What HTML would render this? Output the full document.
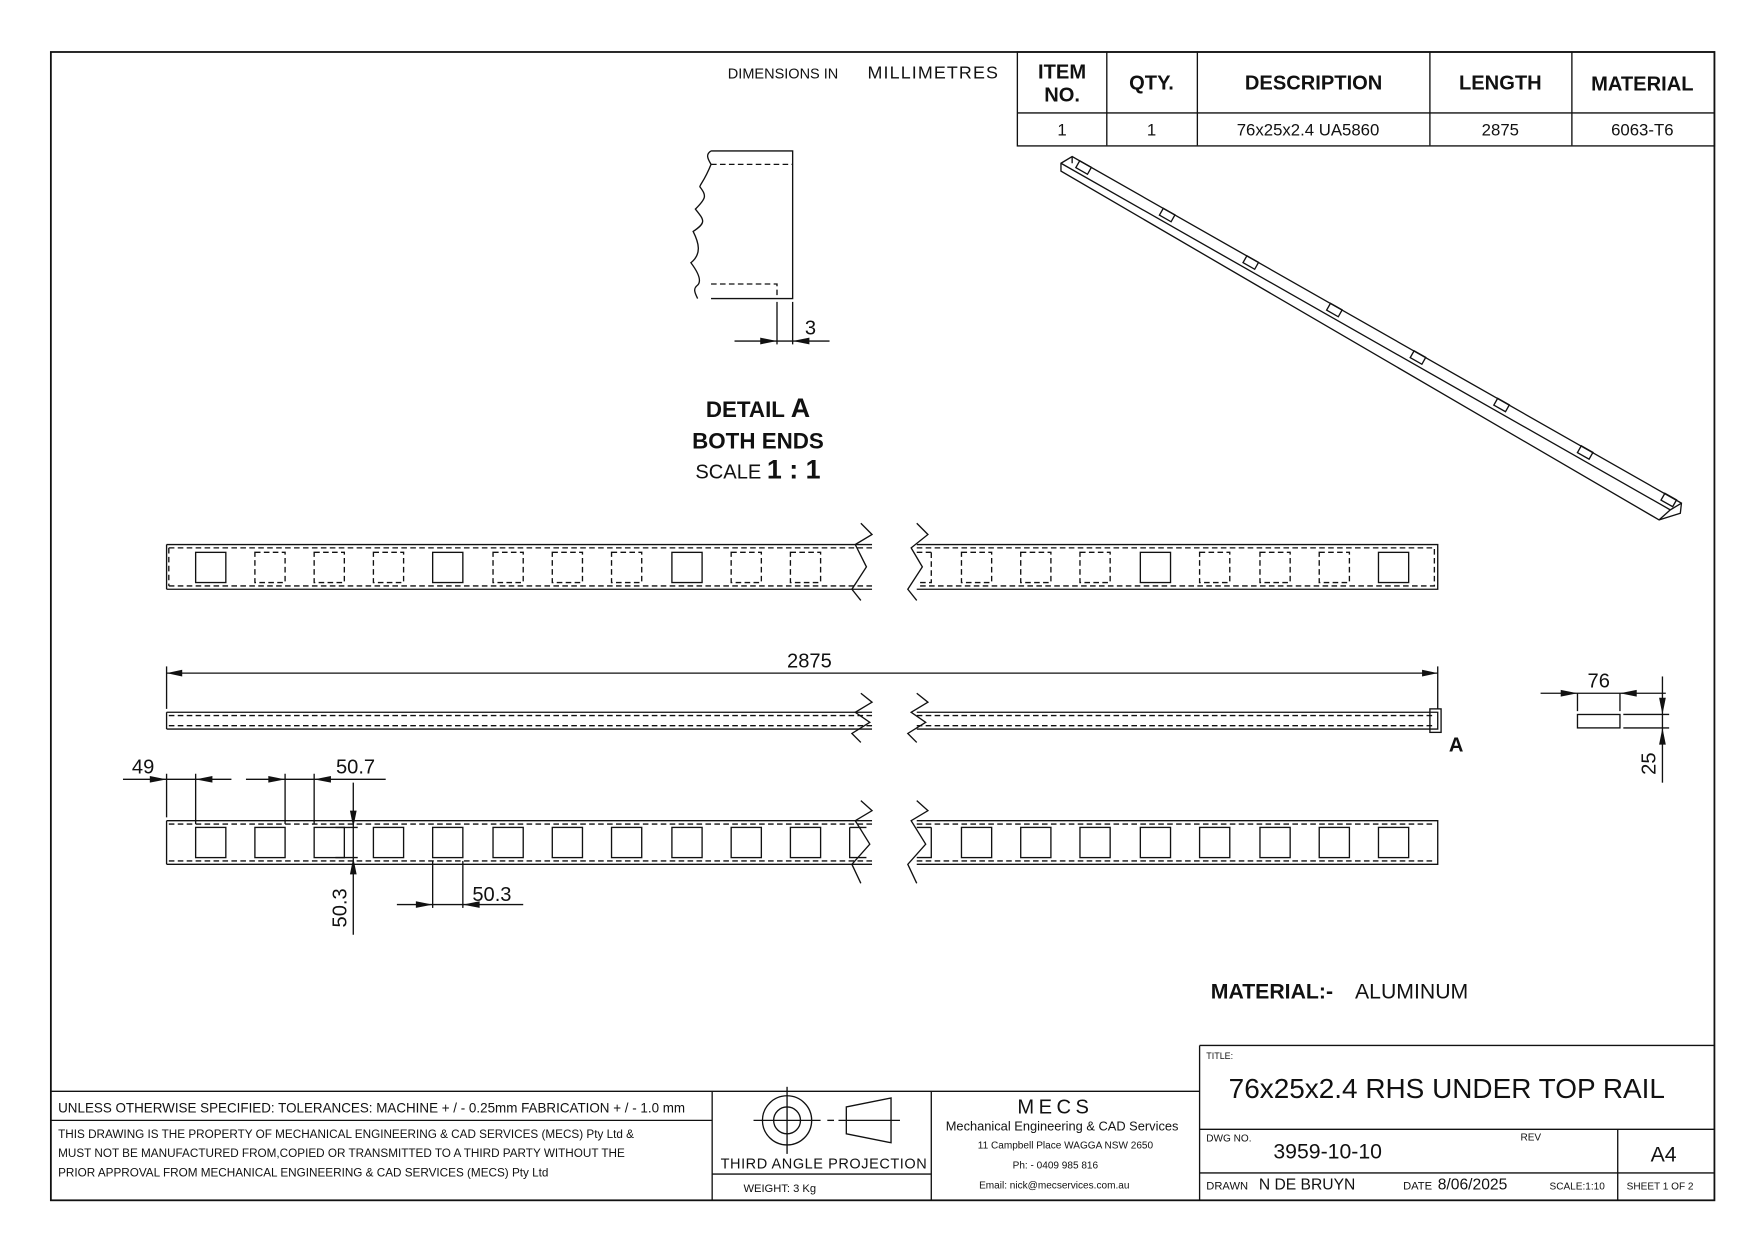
<!DOCTYPE html>
<html><head><meta charset="utf-8"><style>
html,body{margin:0;padding:0;background:#fff;}
svg{display:block;}
text{font-family:"Liberation Sans",sans-serif;fill:#111;}
</style></head><body>
<svg width="1753" height="1240" viewBox="0 0 1568 1109" preserveAspectRatio="none" xmlns="http://www.w3.org/2000/svg">
<g fill="none" stroke="#111" stroke-width="1.2">
<rect x="45.5" y="46.5" width="1488" height="1027" stroke-width="1.6"/>
<rect x="910" y="46.5" width="623.5" height="84"/>
<line x1="910" y1="101" x2="1533" y2="101"/>
<line x1="990" y1="46" x2="990" y2="130"/>
<line x1="1071" y1="46" x2="1071" y2="130"/>
<line x1="1279" y1="46" x2="1279" y2="130"/>
<line x1="1406" y1="46" x2="1406" y2="130"/>
<line x1="1073" y1="935" x2="1533" y2="935"/>
<line x1="1073" y1="935" x2="1073" y2="1073"/>
<line x1="1073" y1="1010" x2="1533" y2="1010"/>
<line x1="1073" y1="1049" x2="1533" y2="1049"/>
<line x1="1447" y1="1010" x2="1447" y2="1073"/>
<line x1="45" y1="976" x2="1073" y2="976"/>
<line x1="45" y1="1002" x2="637" y2="1002"/>
<line x1="637" y1="976" x2="637" y2="1073"/>
<line x1="833" y1="976" x2="833" y2="1073"/>
<line x1="637" y1="1050" x2="833" y2="1050"/>
<circle cx="704" cy="1002" r="22"/><circle cx="704" cy="1002" r="12"/>
<line x1="674" y1="1002" x2="734" y2="1002"/><line x1="704" y1="972" x2="704" y2="1032"/>
<line x1="740" y1="1002" x2="746" y2="1002"/>
<polygon points="757,990 797,982 797,1022 757,1014"/>
<line x1="750" y1="1002" x2="805" y2="1002"/>
<path d="M636,135 H709 V267 H636"/>
<path d="M636,135 c-5,3 -3,7 0,12 c-6,15 -10,18 -10,20 c6,8 6,10 -4,20 c8,10 10,12 -2,20 c5,10 8,20 -2,28 c6,8 10,16 6,20 c-4,3 -3,6 0,12"/>
<path d="M636,147 H709 M636,254 H695 V267" stroke-dasharray="5,3"/>
<line x1="695" y1="270" x2="695" y2="308"/><line x1="709" y1="270" x2="709" y2="308"/>
<line x1="657" y1="305" x2="742" y2="305"/>
<path d="M149,487 H780 M149,527 H780 M149,487 V527 M820,487 H1286 V527 H820"/>
<path d="M151,490 H780 M151,524 H780 M151,490 V524 M820,490 H1283 V524 H820" stroke-dasharray="5,3"/>
<path d="M149,637 H780 M149,652 H780 M149,637 V652 M820,637 H1286 V652 H820"/>
<path d="M151,640 H780 M151,649 H780 M820,640 H1283 M820,649 H1283" stroke-dasharray="5,3"/>
<rect x="1279" y="634" width="10" height="21"/>
<path d="M149,734 H780 M149,773 H780 M149,734 V773 M820,734 H1286 V773 H820"/>
<path d="M151,737 H780 M151,770 H780 M820,737 H1283 M820,770 H1283" stroke-dasharray="5,3"/>
<path d="M770,468 L780,478 L765,487 L775,507 L762,527 L770,537"/>
<path d="M820,468 L830,478 L815,490 L825,507 L812,527 L820,537"/>
<path d="M770,620 L780,628 L765,637 L778,646 L762,656 L770,664"/>
<path d="M820,620 L830,628 L815,637 L828,646 L812,656 L820,664"/>
<path d="M770,716 L780,725 L765,734 L778,755 L762,773 L770,790"/>
<path d="M820,716 L830,725 L815,734 L828,755 L812,773 L820,790"/>
<line x1="149" y1="596" x2="149" y2="634"/><line x1="1286" y1="596" x2="1286" y2="634"/>
<line x1="149" y1="602" x2="1286" y2="602"/>
<line x1="149" y1="692" x2="149" y2="731"/><line x1="175" y1="692" x2="175" y2="737"/>
<line x1="110" y1="697" x2="207" y2="697"/>
<line x1="255" y1="692" x2="255" y2="737"/><line x1="281" y1="692" x2="281" y2="737"/>
<line x1="220" y1="697" x2="345" y2="697"/>
<line x1="300" y1="740" x2="320" y2="740"/><line x1="300" y1="767" x2="320" y2="767"/>
<line x1="316" y1="700" x2="316" y2="836"/>
<line x1="387" y1="770" x2="387" y2="812"/><line x1="414" y1="770" x2="414" y2="812"/>
<line x1="355" y1="809" x2="468" y2="809"/>
<rect x="1411" y="639" width="38" height="12"/>
<line x1="1411" y1="620" x2="1411" y2="636"/><line x1="1449" y1="620" x2="1449" y2="636"/>
<line x1="1378" y1="620" x2="1490" y2="620"/>
<line x1="1452" y1="639" x2="1493" y2="639"/><line x1="1452" y1="651" x2="1493" y2="651"/>
<line x1="1487" y1="605" x2="1487" y2="700"/>
<polygon points="949,146 959,140 1504,450 1503,459 1484,465 949,153"/>
<line x1="959" y1="140" x2="959" y2="146"/><line x1="949" y1="146" x2="1494" y2="456"/>
<line x1="1494" y1="456" x2="1504" y2="450"/><line x1="1494" y1="456" x2="1484" y2="465"/>
</g>
<g fill="#111">
<polygon points="149,602 163,599 163,605"/><polygon points="1286,602 1272,599 1272,605"/>
<polygon points="695,305 680,302 680,308"/><polygon points="709,305 724,302 724,308"/>
<polygon points="149,697 134,694 134,700"/><polygon points="175,697 190,694 190,700"/>
<polygon points="255,697 240,694 240,700"/><polygon points="281,697 296,694 296,700"/>
<polygon points="316,740 313,725 319,725"/><polygon points="316,767 313,782 319,782"/>
<polygon points="387,809 372,806 372,812"/><polygon points="414,809 429,806 429,812"/>
<polygon points="1411,620 1396,617 1396,623"/><polygon points="1449,620 1464,617 1464,623"/>
<polygon points="1487,639 1484,624 1490,624"/><polygon points="1487,651 1484,666 1490,666"/>
</g>
<g fill="none" stroke="#111" stroke-width="1.2">
<rect x="175" y="494" width="27" height="27"/>
<rect x="228" y="494" width="27" height="27" stroke-dasharray="5,3"/>
<rect x="281" y="494" width="27" height="27" stroke-dasharray="5,3"/>
<rect x="334" y="494" width="27" height="27" stroke-dasharray="5,3"/>
<rect x="387" y="494" width="27" height="27"/>
<rect x="441" y="494" width="27" height="27" stroke-dasharray="5,3"/>
<rect x="494" y="494" width="27" height="27" stroke-dasharray="5,3"/>
<rect x="547" y="494" width="27" height="27" stroke-dasharray="5,3"/>
<rect x="601" y="494" width="27" height="27"/>
<rect x="654" y="494" width="27" height="27" stroke-dasharray="5,3"/>
<rect x="707" y="494" width="27" height="27" stroke-dasharray="5,3"/>
<path d="M833,494 H820 M833,494 V521 H820" stroke-dasharray="5,3"/>
<rect x="860" y="494" width="27" height="27" stroke-dasharray="5,3"/>
<rect x="913" y="494" width="27" height="27" stroke-dasharray="5,3"/>
<rect x="966" y="494" width="27" height="27" stroke-dasharray="5,3"/>
<rect x="1020" y="494" width="27" height="27"/>
<rect x="1073" y="494" width="27" height="27" stroke-dasharray="5,3"/>
<rect x="1127" y="494" width="27" height="27" stroke-dasharray="5,3"/>
<rect x="1180" y="494" width="27" height="27" stroke-dasharray="5,3"/>
<rect x="1233" y="494" width="27" height="27"/>
<rect x="175" y="740" width="27" height="27"/><rect x="228" y="740" width="27" height="27"/>
<rect x="281" y="740" width="27" height="27"/><rect x="334" y="740" width="27" height="27"/>
<rect x="387" y="740" width="27" height="27"/><rect x="441" y="740" width="27" height="27"/>
<rect x="494" y="740" width="27" height="27"/><rect x="547" y="740" width="27" height="27"/>
<rect x="601" y="740" width="27" height="27"/><rect x="654" y="740" width="27" height="27"/>
<rect x="707" y="740" width="27" height="27"/>
<path d="M760,740 H775 M760,740 V767 H775"/>
<path d="M833,740 H820 M833,740 V767 H820"/>
<rect x="860" y="740" width="27" height="27"/><rect x="913" y="740" width="27" height="27"/>
<rect x="966" y="740" width="27" height="27"/><rect x="1020" y="740" width="27" height="27"/>
<rect x="1073" y="740" width="27" height="27"/><rect x="1127" y="740" width="27" height="27"/>
<rect x="1180" y="740" width="27" height="27"/><rect x="1233" y="740" width="27" height="27"/>
<g transform="rotate(29.6 968 152)">
<rect x="962" y="146" width="12" height="7"/><rect x="1048" y="146" width="12" height="7"/>
<rect x="1134" y="146" width="12" height="7"/><rect x="1220" y="146" width="12" height="7"/>
<rect x="1306" y="146" width="12" height="7"/><rect x="1392" y="146" width="12" height="7"/>
<rect x="1478" y="146" width="12" height="7"/><rect x="1564" y="146" width="12" height="7"/>
</g>
</g>
<text x="651" y="70" font-size="13">DIMENSIONS IN</text>
<text x="776" y="70" font-size="16" letter-spacing="1">MILLIMETRES</text>
<g font-weight="bold" font-size="18" text-anchor="middle">
<text x="950" y="70">ITEM</text><text x="950" y="91">NO.</text>
<text x="1030" y="80">QTY.</text><text x="1175" y="80">DESCRIPTION</text>
<text x="1342" y="80">LENGTH</text><text x="1469" y="81">MATERIAL</text>
</g>
<g font-size="15" text-anchor="middle">
<text x="950" y="121">1</text><text x="1030" y="121">1</text>
<text x="1170" y="121">76x25x2.4 UA5860</text><text x="1342" y="121">2875</text><text x="1469" y="121">6063-T6</text>
</g>
<text x="720" y="299" font-size="18">3</text>
<text x="678" y="373" font-size="20" font-weight="bold" text-anchor="middle">DETAIL <tspan font-size="24">A</tspan></text>
<text x="678" y="401" font-size="20" font-weight="bold" text-anchor="middle">BOTH ENDS</text>
<text x="678" y="428" font-size="18" text-anchor="middle">SCALE <tspan font-weight="bold" font-size="24">1 : 1</tspan></text>
<text x="724" y="597" font-size="18" text-anchor="middle">2875</text>
<text x="1296" y="672" font-size="18" font-weight="bold">A</text>
<text x="1430" y="615" font-size="18" text-anchor="middle">76</text>
<text transform="translate(1481,683) rotate(-90)" font-size="18" text-anchor="middle">25</text>
<text x="128" y="692" font-size="18" text-anchor="middle">49</text>
<text x="318" y="692" font-size="18" text-anchor="middle">50.7</text>
<text transform="translate(310,812) rotate(-90)" font-size="18" text-anchor="middle">50.3</text>
<text x="440" y="806" font-size="18" text-anchor="middle">50.3</text>
<text x="1083" y="893" font-size="19" font-weight="bold">MATERIAL:-</text>
<text x="1212" y="893" font-size="19">ALUMINUM</text>
<text x="1079" y="947" font-size="8">TITLE:</text>
<text x="1099" y="982" font-size="25">76x25x2.4 RHS UNDER TOP RAIL</text>
<text x="1079" y="1021" font-size="9">DWG NO.</text>
<text x="1139" y="1036" font-size="19">3959-10-10</text>
<text x="1360" y="1020" font-size="9">REV</text>
<text x="1488" y="1039" font-size="19" text-anchor="middle">A4</text>
<text x="1079" y="1064" font-size="10">DRAWN</text>
<text x="1126" y="1064" font-size="14">N DE BRUYN</text>
<text x="1255" y="1064" font-size="10">DATE</text>
<text x="1286" y="1064" font-size="14">8/06/2025</text>
<text x="1386" y="1064" font-size="9">SCALE:1:10</text>
<text x="1455" y="1064" font-size="9">SHEET 1 OF 2</text>
<text x="52" y="995" font-size="12">UNLESS OTHERWISE SPECIFIED: TOLERANCES: MACHINE + / - 0.25mm  FABRICATION + / - 1.0 mm</text>
<text x="52" y="1018" font-size="10.5">THIS DRAWING IS THE PROPERTY OF MECHANICAL ENGINEERING &amp; CAD SERVICES (MECS) Pty Ltd &amp;</text>
<text x="52" y="1035" font-size="10.5">MUST NOT BE MANUFACTURED FROM,COPIED OR TRANSMITTED TO A THIRD PARTY WITHOUT THE</text>
<text x="52" y="1052" font-size="10.5">PRIOR APPROVAL FROM MECHANICAL ENGINEERING &amp; CAD SERVICES (MECS) Pty Ltd</text>
<text x="737" y="1045" font-size="13" text-anchor="middle" letter-spacing="0.5">THIRD ANGLE PROJECTION</text>
<text x="665" y="1066" font-size="10">WEIGHT:  3 Kg</text>
<text x="944" y="996" font-size="18" text-anchor="middle" letter-spacing="4">MECS</text>
<text x="950" y="1011" font-size="11.5" text-anchor="middle">Mechanical Engineering &amp; CAD Services</text>
<text x="953" y="1027" font-size="9" text-anchor="middle">11 Campbell Place WAGGA NSW 2650</text>
<text x="944" y="1045" font-size="9" text-anchor="middle">Ph: - 0409 985 816</text>
<text x="943" y="1063" font-size="9" text-anchor="middle">Email: nick@mecservices.com.au</text>
</svg>
</body></html>
